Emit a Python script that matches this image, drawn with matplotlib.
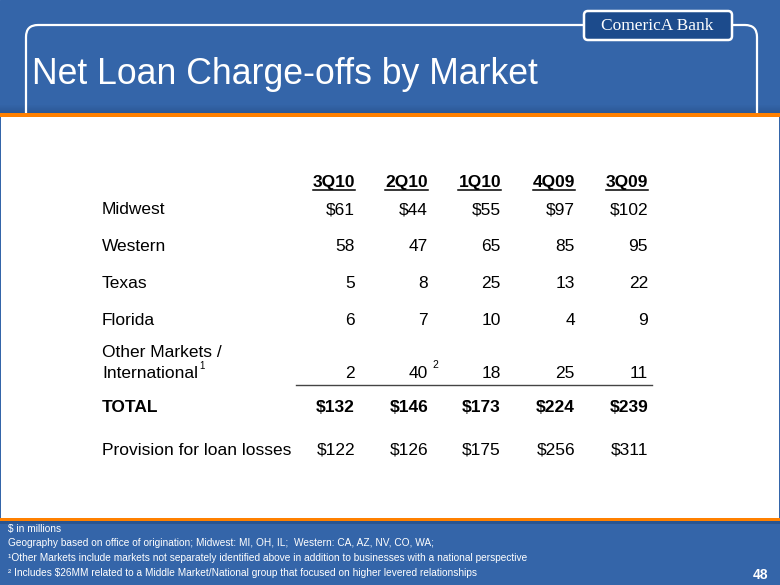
import matplotlib
matplotlib.use("Agg")
import matplotlib.pyplot as plt
from matplotlib.patches import Rectangle, FancyBboxPatch

plt.rcParams['font.family'] = ['Liberation Sans', 'DejaVu Sans']

# table data ($ in millions)
quarters = ['3Q10', '2Q10', '1Q10', '4Q09', '3Q09']
midwest = [61, 44, 55, 97, 102]
western = [58, 47, 65, 85, 95]
texas = [5, 8, 25, 13, 22]
florida = [6, 7, 10, 4, 9]
other_intl = [2, 40, 18, 25, 11]
total = [132, 146, 173, 224, 239]
provision = [122, 126, 175, 256, 311]

footnotes = [
    "$ in millions",
    "Geography based on office of origination; Midwest: MI, OH, IL;  Western: CA, AZ, NV, CO, WA;",
    "\u00b9Other Markets include markets not separately identified above in addition to businesses with a national perspective",
    "\u00b2 Includes $26MM related to a Middle Market/National group that focused on higher levered relationships",
]

blue = '#3465a9'
orange = '#ff8000'

fig = plt.figure(figsize=(7.8, 5.85), dpi=100)
ax = fig.add_axes([0, 0, 1, 1])
ax.set_xlim(0, 780)
ax.set_ylim(585, 0)
ax.axis('off')

# background and panels
ax.add_patch(Rectangle((0, 0), 780, 585, color=blue, zorder=0))
for i in range(8):
    ax.add_patch(Rectangle((0, 105 + i), 780, 1, color='#1d3f70', alpha=0.04 * (i + 1), lw=0, zorder=1))
frame = FancyBboxPatch((26, 25), 731, 130, boxstyle='round,pad=0,rounding_size=12',
                       fill=False, edgecolor='white', lw=1.6, zorder=2)
ax.add_patch(frame)
ax.add_patch(Rectangle((0, 113), 780, 4, color=orange, lw=0, zorder=3))
ax.add_patch(Rectangle((1, 117), 778, 401, color='white', lw=0, zorder=3))
ax.add_patch(Rectangle((0, 518), 780, 3, color=orange, lw=0, zorder=3))
ax.add_patch(Rectangle((0, 521), 780, 3, color='#2a5590', lw=0, zorder=3))

# logo
ax.add_patch(FancyBboxPatch((584, 11), 148, 29, boxstyle='round,pad=0,rounding_size=4',
                            facecolor='#1c4b8c', edgecolor='white', lw=1.8, zorder=4))
ax.text(657, 26, 'ComericA Bank', color='white', fontsize=12.5, family='Liberation Serif',
        ha='center', va='center', zorder=5)

# title
ax.text(32, 84, 'Net Loan Charge-offs by Market', color='white', fontsize=25.7,
        ha='left', va='baseline', zorder=5)

# table
col_x = [355, 428, 501, 575, 648]
label_x = 102
fs = 12.5

header_texts = []
for x, q in zip(col_x, quarters):
    header_texts.append(ax.text(x, 187, q, fontsize=fs, fontweight='bold', ha='right',
                                va='baseline', zorder=5))

rows = [
    ('Midwest', midwest, 214, '$', 'normal'),
    ('Western', western, 251, '', 'normal'),
    ('Texas', texas, 288, '', 'normal'),
    ('Florida', florida, 325, '', 'normal'),
    ('International', other_intl, 378, '', 'normal'),
    ('TOTAL', total, 412, '$', 'bold'),
    ('Provision for loan losses', provision, 455, '$', 'normal'),
]
for label, vals, y, pre, wt in rows:
    ax.text(label_x, y, label, fontsize=fs, fontweight=wt, ha='left', va='baseline', zorder=5)
    for x, v in zip(col_x, vals):
        ax.text(x, y, f'{pre}{v}', fontsize=fs, fontweight=wt, ha='right', va='baseline', zorder=5)
ax.text(label_x, 357, 'Other Markets /', fontsize=fs, ha='left', va='baseline', zorder=5)

# superscripts
fig.canvas.draw()
r = fig.canvas.get_renderer()
inv = ax.transData.inverted()
intl = [t for t in ax.texts if t.get_text() == 'International'][0]
bb = inv.transform(intl.get_window_extent(r))
ax.text(bb[1][0] + 1, 369, '1', fontsize=7, ha='left', va='baseline', zorder=5)
ax.text(col_x[1] + 4, 368, '2', fontsize=7.5, ha='left', va='baseline', zorder=5)

# header underlines
for t in header_texts:
    bb = inv.transform(t.get_window_extent(r))
    ax.plot([bb[0][0], bb[1][0]], [190, 190], color='black', lw=1.1, zorder=5)

# rule above total
ax.plot([296, 652], [384.5, 384.5], color='#444444', lw=1.0, zorder=5)

# footnotes
for i, line in enumerate(footnotes):
    ax.text(8, 529 + 14.5 * i, line, color='white', fontsize=7.3,
            ha='left', va='center', zorder=5)
ax.text(768, 575, '48', color='white', fontsize=10, fontweight='bold', ha='right', va='center', zorder=5)

fig.savefig('out.png', dpi=100)
